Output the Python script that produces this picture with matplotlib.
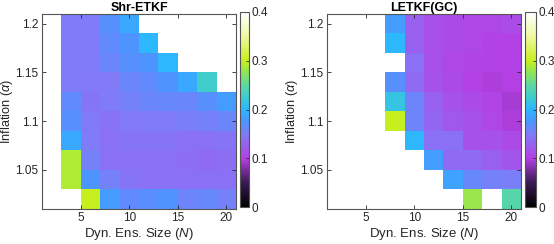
import numpy as np
import matplotlib
matplotlib.use("Agg")
import matplotlib.pyplot as plt
from matplotlib.colors import LinearSegmentedColormap

plt.rcParams['font.family'] = ['Liberation Sans', 'DejaVu Sans']
plt.rcParams['mathtext.fontset'] = 'custom'
plt.rcParams['mathtext.it'] = 'Liberation Sans:italic'

# ensemble sizes and inflation values (cell centres)
ens_size = [2, 4, 6, 8, 10, 12, 14, 16, 18, 20]
inflation = [1.02, 1.04, 1.06, 1.08, 1.10, 1.12, 1.14, 1.16, 1.18, 1.20]
nan = np.nan

# rows: inflation 1.02 ... 1.20, cols: ensemble size 2 ... 20
shr_etkf = [
    [nan, nan, 0.300, 0.180, 0.165, 0.168, 0.172, 0.158, 0.162, 0.155],
    [nan, 0.290, 0.175, 0.155, 0.145, 0.142, 0.140, 0.140, 0.140, 0.140],
    [nan, 0.290, 0.155, 0.140, 0.142, 0.142, 0.140, 0.138, 0.135, 0.138],
    [nan, 0.190, 0.150, 0.140, 0.145, 0.145, 0.145, 0.140, 0.142, 0.145],
    [nan, 0.170, 0.148, 0.142, 0.148, 0.150, 0.150, 0.152, 0.155, 0.160],
    [nan, 0.165, 0.145, 0.150, 0.155, 0.160, 0.162, 0.160, 0.170, 0.180],
    [nan, 0.150, 0.148, 0.148, 0.160, 0.165, 0.175, 0.190, 0.225, nan],
    [nan, 0.150, 0.150, 0.160, 0.170, 0.175, 0.200, nan, nan, nan],
    [nan, 0.150, 0.150, 0.165, 0.175, 0.200, nan, nan, nan, nan],
    [nan, 0.150, 0.150, 0.170, 0.190, nan, nan, nan, nan, nan],
]

letkf_gc = [
    [nan, nan, nan, nan, nan, nan, nan, 0.280, nan, 0.245],
    [nan, nan, nan, nan, nan, nan, 0.185, 0.162, 0.155, 0.152],
    [nan, nan, nan, nan, nan, 0.180, 0.135, 0.135, 0.125, 0.118],
    [nan, nan, nan, nan, 0.200, 0.140, 0.140, 0.115, 0.115, 0.108],
    [nan, nan, nan, 0.300, 0.158, 0.132, 0.120, 0.115, 0.106, 0.098],
    [nan, nan, nan, 0.215, 0.158, 0.128, 0.115, 0.108, 0.104, 0.095],
    [nan, nan, nan, 0.170, 0.135, 0.115, 0.108, 0.102, 0.098, 0.100],
    [nan, nan, nan, nan, 0.140, 0.112, 0.106, 0.104, 0.102, 0.102],
    [nan, nan, nan, 0.200, 0.128, 0.112, 0.108, 0.106, 0.102, 0.102],
    [nan, nan, nan, 0.180, 0.125, 0.112, 0.108, 0.106, 0.106, 0.110],
]

titles = ['Shr-ETKF', 'LETKF(GC)']

cmap = LinearSegmentedColormap.from_list('rmse', [
    (0.000, '#000000'),
    (0.125, '#3c1a55'),
    (0.250, '#b440e4'),
    (0.375, '#7f7cf8'),
    (0.440, '#4a96ff'),
    (0.500, '#2cb6ff'),
    (0.565, '#40cccc'),
    (0.625, '#5cd8a0'),
    (0.690, '#90e458'),
    (0.750, '#c6f01c'),
    (0.875, '#eef8a0'),
    (1.000, '#ffffff'),
])
cmap.set_bad('white')

fig = plt.figure(figsize=(5.54, 2.44), dpi=100)
ax_pos = [[42 / 554, 35 / 244, 194 / 554, 195 / 244],
          [327 / 554, 35 / 244, 194 / 554, 195 / 244]]
cb_pos = [[240 / 554, 37 / 244, 9 / 554, 195 / 244],
          [525 / 554, 37 / 244, 11 / 554, 195 / 244]]

edge = '#262626'
for k, data in enumerate([shr_etkf, letkf_gc]):
    ax = fig.add_axes(ax_pos[k])
    mesh = ax.pcolormesh(ens_size, inflation, np.array(data), cmap=cmap,
                         vmin=0, vmax=0.4, shading='nearest')
    ax.set_xlim(1, 21)
    ax.set_ylim(1.01, 1.21)
    ax.set_xticks([5, 10, 15, 20])
    ax.set_yticks([1.05, 1.1, 1.15, 1.2])
    ax.set_yticklabels(['1.05', '1.1', '1.15', '1.2'])
    ax.tick_params(direction='in', length=3, width=0.6, top=True, right=True,
                   labelsize=8.5, colors=edge, pad=2.5)
    for s in ax.spines.values():
        s.set_linewidth(0.8)
        s.set_color('#555555')
    ax.set_title(titles[k], fontsize=9, fontweight='bold', pad=2)
    ax.set_xlabel('Dyn. Ens. Size ($N$)', fontsize=9.5, labelpad=1, color=edge)
    ax.set_ylabel(r'Inflation ($\alpha$)', fontsize=9.2, labelpad=0, color=edge)

    cax = fig.add_axes(cb_pos[k])
    cb = fig.colorbar(mesh, cax=cax, ticks=[0, 0.1, 0.2, 0.3, 0.4])
    cb.ax.set_yticklabels(['0', '0.1', '0.2', '0.3', '0.4'])
    cb.ax.tick_params(direction='in', length=2, width=0.6, labelsize=8.5,
                      colors=edge, pad=2)
    cb.outline.set_linewidth(0.8)
    cb.outline.set_edgecolor('#555555')

fig.savefig('out.png', dpi=100)
